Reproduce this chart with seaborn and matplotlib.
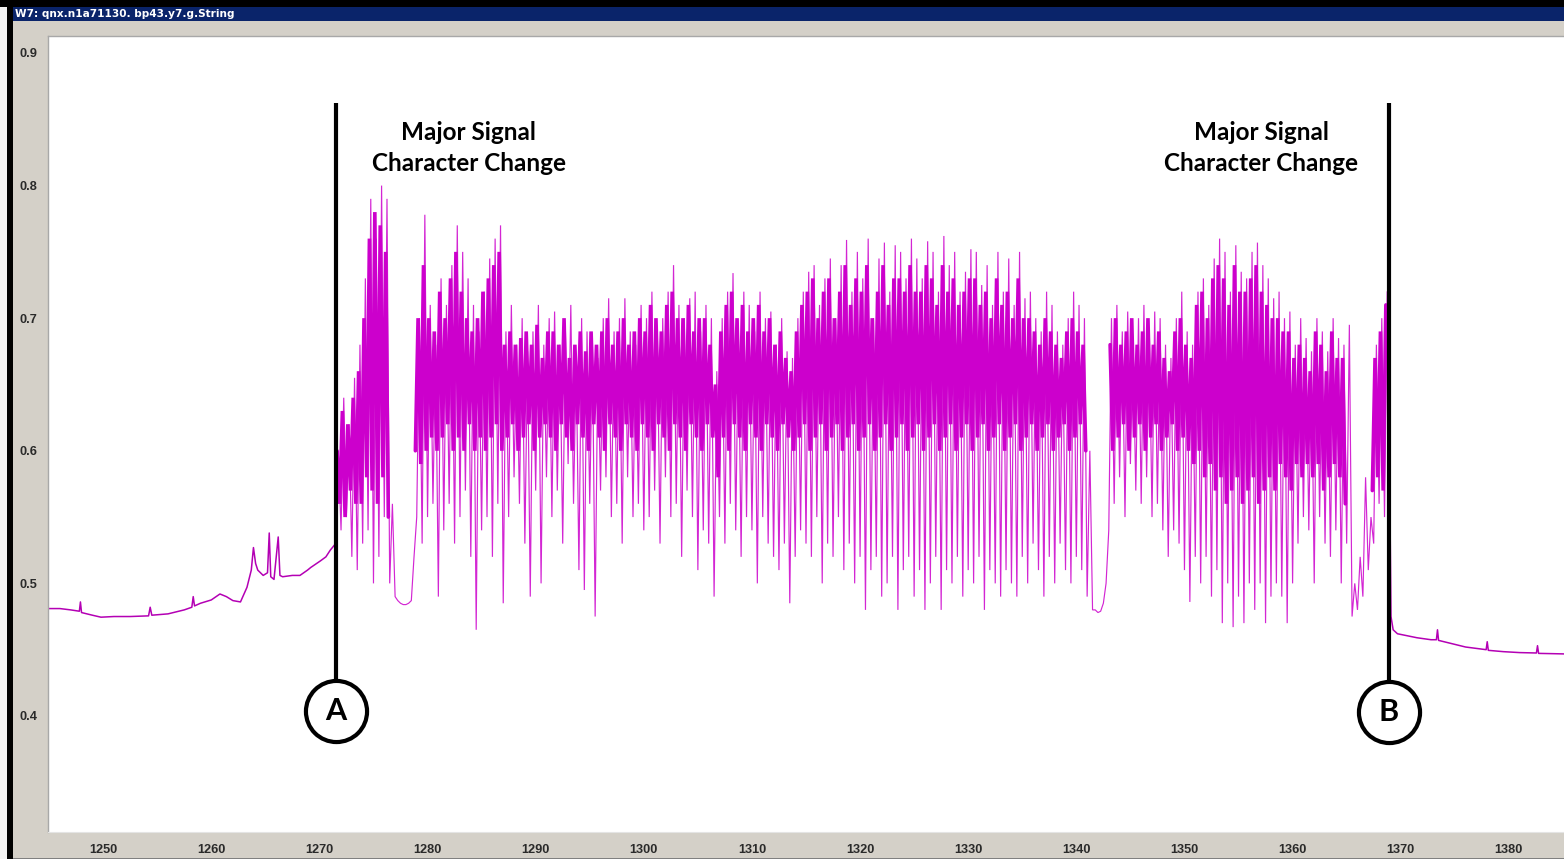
import numpy as np
import pandas as pd
import matplotlib
matplotlib.use("Agg")
import matplotlib.pyplot as plt
import seaborn as sns
from matplotlib.patches import Rectangle

# ---------------- data ----------------
window_title = "W7: qnx.n1a71130. bp43.y7.g.String"
x_ticks = [1250, 1260, 1270, 1280, 1290, 1300, 1310, 1320, 1330, 1340, 1350, 1360, 1370, 1380]
y_ticks = [0.4, 0.5, 0.6, 0.7, 0.8, 0.9]
y_tick_labels = ["0.4", "0.5", "0.6", "0.7", "0.8", "0.9"]

# quiet signal before event A
left_x = [1244.9, 1246.0, 1247.0, 1247.8, 1247.9, 1248.0, 1249.0, 1249.8, 1251.0, 1252.5,
          1254.2, 1254.35, 1254.5, 1256.0, 1257.5, 1258.2, 1258.33, 1258.45, 1259.0, 1260.0,
          1260.8, 1261.4, 1262.0, 1262.7, 1263.3, 1263.7, 1263.9, 1264.1, 1264.3, 1264.8,
          1265.2, 1265.36, 1265.5, 1265.8, 1266.19, 1266.35, 1266.6, 1267.5, 1268.2, 1268.9,
          1269.2, 1270.1, 1270.6, 1271.0, 1271.5]
left_y = [0.481, 0.481, 0.480, 0.479, 0.486, 0.478, 0.476, 0.4745, 0.475, 0.475,
          0.4755, 0.482, 0.476, 0.477, 0.480, 0.482, 0.490, 0.483, 0.485, 0.4875,
          0.492, 0.490, 0.487, 0.486, 0.497, 0.510, 0.527, 0.515, 0.510, 0.506,
          0.508, 0.538, 0.505, 0.503, 0.535, 0.506, 0.505, 0.506, 0.506, 0.510,
          0.512, 0.517, 0.520, 0.525, 0.530]

# oscillating signal between A and B: wide excursions, sampled every 0.25 from 1271.5
outer_start = 1271.5
sample_step = 0.25
outer_y = [
    0.535, 0.60, 0.54, 0.64,    0.55, 0.62, 0.52, 0.655,   0.51, 0.68, 0.53, 0.73,    # 1271.5
    0.54, 0.79, 0.50, 0.76,     0.52, 0.80, 0.55, 0.79,    0.50, 0.56, 0.49, 0.487,   # 1274.5
    0.485, 0.484, 0.484, 0.485, 0.487, 0.52, 0.55, 0.70,   0.53, 0.778, 0.55, 0.71,   # 1277.5
    0.56, 0.68, 0.49, 0.73,     0.54, 0.71, 0.56, 0.74,    0.53, 0.77, 0.55, 0.75,    # 1280.5
    0.57, 0.73, 0.52, 0.71,     0.465, 0.69, 0.54, 0.72,   0.55, 0.745, 0.52, 0.76,   # 1283.5
    0.56, 0.77, 0.485, 0.69,    0.55, 0.71, 0.58, 0.68,    0.56, 0.70, 0.53, 0.675,   # 1286.5
    0.49, 0.69, 0.57, 0.71,     0.50, 0.68, 0.58, 0.70,    0.55, 0.705, 0.57, 0.68,   # 1289.5
    0.53, 0.69, 0.59, 0.71,     0.56, 0.67, 0.51, 0.70,    0.495, 0.69, 0.56, 0.68,   # 1292.5
    0.475, 0.67, 0.57, 0.70,    0.58, 0.715, 0.55, 0.69,   0.56, 0.70, 0.53, 0.715,   # 1295.5
    0.58, 0.69, 0.55, 0.68,     0.56, 0.71, 0.54, 0.70,    0.55, 0.72, 0.57, 0.69,    # 1298.5
    0.53, 0.70, 0.58, 0.72,     0.55, 0.74, 0.56, 0.71,    0.52, 0.70, 0.57, 0.715,   # 1301.5
    0.55, 0.72, 0.51, 0.69,     0.54, 0.71, 0.53, 0.70,    0.49, 0.66, 0.55, 0.70,    # 1304.5
    0.53, 0.72, 0.56, 0.734,    0.54, 0.69, 0.52, 0.72,    0.55, 0.71, 0.54, 0.69,    # 1307.5
    0.50, 0.72, 0.55, 0.70,     0.53, 0.705, 0.52, 0.68,   0.51, 0.70, 0.53, 0.675,   # 1310.5
    0.485, 0.67, 0.52, 0.70,    0.54, 0.72, 0.53, 0.735,   0.52, 0.74, 0.55, 0.71,    # 1313.5
    0.50, 0.73, 0.53, 0.745,    0.52, 0.70, 0.55, 0.74,    0.51, 0.759, 0.53, 0.72,   # 1316.5
    0.50, 0.75, 0.52, 0.73,     0.48, 0.76, 0.51, 0.70,    0.52, 0.745, 0.49, 0.757,  # 1319.5
    0.50, 0.72, 0.52, 0.755,    0.48, 0.75, 0.51, 0.73,    0.52, 0.76, 0.49, 0.745,   # 1322.5
    0.51, 0.73, 0.48, 0.758,    0.50, 0.75, 0.52, 0.72,    0.48, 0.762, 0.51, 0.74,   # 1325.5
    0.50, 0.75, 0.52, 0.72,     0.49, 0.735, 0.51, 0.752,  0.50, 0.75, 0.52, 0.725,   # 1328.5
    0.48, 0.74, 0.51, 0.71,     0.50, 0.75, 0.49, 0.72,    0.51, 0.745, 0.50, 0.71,   # 1331.5
    0.49, 0.75, 0.52, 0.715,    0.50, 0.72, 0.53, 0.70,    0.51, 0.69, 0.49, 0.72,    # 1334.5
    0.52, 0.71, 0.50, 0.69,     0.53, 0.68, 0.51, 0.70,    0.50, 0.72, 0.52, 0.71,    # 1337.5
    0.51, 0.70, 0.49, 0.60,     0.48, 0.48, 0.478, 0.479,  0.485, 0.50, 0.54, 0.70,   # 1340.5
    0.56, 0.71, 0.58, 0.69,     0.55, 0.705, 0.59, 0.68,   0.57, 0.70, 0.56, 0.71,    # 1343.5
    0.58, 0.69, 0.55, 0.705,    0.56, 0.70, 0.54, 0.68,    0.52, 0.67, 0.54, 0.70,    # 1346.5
    0.53, 0.72, 0.51, 0.69,     0.486, 0.68, 0.52, 0.72,   0.50, 0.73, 0.52, 0.71,    # 1349.5
    0.49, 0.745, 0.51, 0.76,    0.47, 0.75, 0.50, 0.72,    0.467, 0.755, 0.49, 0.735, # 1352.5
    0.47, 0.73, 0.50, 0.75,     0.48, 0.757, 0.50, 0.74,   0.47, 0.73, 0.49, 0.715,   # 1355.5
    0.50, 0.72, 0.49, 0.70,     0.47, 0.705, 0.50, 0.68,   0.53, 0.70, 0.55, 0.685,   # 1358.5
    0.54, 0.675, 0.50, 0.70,    0.55, 0.69, 0.53, 0.675,   0.52, 0.70, 0.54, 0.685,   # 1361.5
    0.50, 0.68, 0.53, 0.695,    0.475, 0.50, 0.48, 0.52,   0.49, 0.58, 0.51, 0.55,    # 1364.5
    0.53, 0.68, 0.56, 0.70,     0.55, 0.72,                                           # 1367.5
]

# the dense inner oscillation, four bursts, sampled every 0.25
inner1_start = 1271.625
inner1_y = [
    0.60, 0.56, 0.63, 0.55,     0.62, 0.57, 0.64, 0.56,    0.66, 0.56, 0.70, 0.58,    # 1271.6
    0.76, 0.57, 0.78, 0.56,     0.77, 0.58, 0.75, 0.55,                               # 1274.6
]
inner2_start = 1278.875
inner2_y = [
    0.60, 0.70, 0.59,           0.74, 0.60, 0.70, 0.61,                               # 1278.9
    0.69, 0.60, 0.72, 0.61,     0.70, 0.62, 0.73, 0.60,    0.75, 0.61, 0.72, 0.60,    # 1280.6
    0.70, 0.62, 0.69, 0.60,     0.70, 0.61, 0.72, 0.60,    0.73, 0.61, 0.74, 0.62,    # 1283.6
    0.75, 0.60, 0.68, 0.61,     0.69, 0.62, 0.68, 0.60,    0.685, 0.61, 0.69, 0.62,   # 1286.6
    0.68, 0.60, 0.695, 0.61,    0.67, 0.62, 0.69, 0.61,    0.69, 0.60, 0.68, 0.62,    # 1289.6
    0.70, 0.61, 0.67, 0.60,     0.68, 0.62, 0.69, 0.61,    0.675, 0.60, 0.69, 0.62,   # 1292.6
    0.68, 0.61, 0.69, 0.60,     0.70, 0.62, 0.68, 0.61,    0.69, 0.60, 0.70, 0.62,    # 1295.6
    0.68, 0.61, 0.69, 0.60,     0.70, 0.62, 0.69, 0.61,    0.71, 0.60, 0.70, 0.62,    # 1298.6
    0.69, 0.61, 0.71, 0.60,     0.72, 0.62, 0.70, 0.61,    0.70, 0.60, 0.71, 0.62,    # 1301.6
    0.69, 0.61, 0.70, 0.60,     0.70, 0.62, 0.68, 0.61,    0.65, 0.58, 0.69, 0.61,    # 1304.6
    0.71, 0.60, 0.72, 0.62,     0.70, 0.61, 0.71, 0.60,    0.69, 0.62, 0.70, 0.61,    # 1307.6
    0.71, 0.60, 0.69, 0.62,     0.70, 0.61, 0.68, 0.60,    0.69, 0.62, 0.67, 0.61,    # 1310.6
    0.66, 0.60, 0.69, 0.61,     0.71, 0.62, 0.72, 0.60,    0.73, 0.61, 0.70, 0.62,    # 1313.6
    0.72, 0.60, 0.73, 0.61,     0.70, 0.62, 0.72, 0.60,    0.74, 0.61, 0.71, 0.62,    # 1316.6
    0.73, 0.60, 0.72, 0.61,     0.74, 0.62, 0.70, 0.60,    0.72, 0.61, 0.74, 0.62,    # 1319.6
    0.71, 0.60, 0.73, 0.61,     0.73, 0.62, 0.72, 0.60,    0.74, 0.61, 0.72, 0.62,    # 1322.6
    0.72, 0.60, 0.74, 0.61,     0.73, 0.62, 0.71, 0.60,    0.74, 0.61, 0.72, 0.62,    # 1325.6
    0.73, 0.60, 0.71, 0.61,     0.72, 0.62, 0.73, 0.60,    0.73, 0.61, 0.71, 0.62,    # 1328.6
    0.72, 0.60, 0.70, 0.61,     0.73, 0.62, 0.71, 0.60,    0.72, 0.61, 0.70, 0.62,    # 1331.6
    0.73, 0.60, 0.70, 0.61,     0.70, 0.62, 0.69, 0.60,    0.68, 0.61, 0.70, 0.62,    # 1334.6
    0.69, 0.60, 0.68, 0.61,     0.67, 0.62, 0.69, 0.60,    0.70, 0.61, 0.69, 0.62,    # 1337.6
    0.68, 0.60,                                                                       # 1340.6
]
inner3_start = 1343.125
inner3_y = [
    0.68, 0.60,                                                                       # 1343.1
    0.70, 0.61, 0.68, 0.62,     0.69, 0.60, 0.70, 0.61,    0.68, 0.62, 0.69, 0.60,    # 1343.6
    0.70, 0.61, 0.68, 0.62,     0.69, 0.60, 0.67, 0.61,    0.66, 0.62, 0.69, 0.60,    # 1346.6
    0.70, 0.61, 0.68, 0.60,     0.67, 0.59, 0.71, 0.60,    0.72, 0.58, 0.70, 0.59,    # 1349.6
    0.73, 0.57, 0.74, 0.58,     0.73, 0.56, 0.71, 0.57,    0.74, 0.58, 0.72, 0.56,    # 1352.6
    0.72, 0.57, 0.73, 0.58,     0.74, 0.56, 0.72, 0.57,    0.71, 0.58, 0.70, 0.57,    # 1355.6
    0.70, 0.59, 0.69, 0.58,     0.69, 0.57, 0.67, 0.59,    0.68, 0.58, 0.67, 0.59,    # 1358.6
    0.66, 0.58, 0.69, 0.59,     0.68, 0.57, 0.66, 0.58,    0.69, 0.59, 0.67, 0.58,    # 1361.6
    0.67, 0.56,                                                                       # 1364.6
]
inner4_start = 1367.375
inner4_y = [0.57, 0.67, 0.58, 0.69, 0.57, 0.71]

# quiet signal after event B
right_x = [1369.0, 1369.1, 1369.3, 1369.7, 1370.3, 1371.5, 1372.8, 1373.3, 1373.4, 1373.5,
           1374.5, 1376.0, 1377.9, 1378.0, 1378.1, 1379.5, 1381.0, 1382.55, 1382.65, 1382.75,
           1384.0, 1385.1]
right_y = [0.56, 0.475, 0.465, 0.462, 0.461, 0.459, 0.4575, 0.4575, 0.465, 0.457,
           0.455, 0.452, 0.450, 0.456, 0.4495, 0.4485, 0.4478, 0.4475, 0.453, 0.4472,
           0.447, 0.4468]

# annotations
event_labels = ["A", "B"]
event_x = [1271.55, 1368.87]
event_line_top = 0.8623
event_circle_y = [0.4038, 0.4030]
note_text = "Major Signal\nCharacter Change"
note_x = [1283.8, 1357.1]
note_y = 0.8283

# ---------------- figure ----------------
W, H = 1564, 859
sns.set_style("white")
plt.rcParams["font.family"] = ["Liberation Sans", "DejaVu Sans"]

fig = plt.figure(figsize=(W / 100, H / 100), dpi=100)
GRAY = "#D4D0C8"
fig.patch.set_facecolor(GRAY)

def fx(px):
    return px / W

def fy(py):
    return 1 - py / H

# window chrome
fig.patches.append(Rectangle((0, 0), fx(7), 1, transform=fig.transFigure,
                             facecolor="#F2F2F2", edgecolor="none", zorder=0))
fig.patches.append(Rectangle((fx(7), 0), fx(6), 1, transform=fig.transFigure,
                             facecolor="black", edgecolor="none", zorder=0))
fig.patches.append(Rectangle((0, fy(7)), 1, 7 / H, transform=fig.transFigure,
                             facecolor="black", edgecolor="none", zorder=0))
fig.patches.append(Rectangle((fx(13), fy(21)), 1, 14 / H, transform=fig.transFigure,
                             facecolor="#0A246A", edgecolor="none", zorder=0))
fig.patches.append(Rectangle((fx(13), 0), 1, 1.5 / H, transform=fig.transFigure,
                             facecolor="#808080", edgecolor="none", zorder=0))
fig.text(fx(15), fy(14), window_title, color="white", fontsize=7.6, fontweight="bold",
         family=["DejaVu Sans"], va="center", ha="left")

ax = fig.add_axes([fx(48), fy(832), 1 - fx(48), (832 - 36) / H])
ax.set_facecolor("white")

MAG = "#CC00CC"

# baselines
sns.lineplot(x=left_x, y=left_y, ax=ax, color="#B400B4", linewidth=1.1,
             estimator=None, sort=False)
sns.lineplot(x=right_x, y=right_y, ax=ax, color="#B400B4", linewidth=1.1,
             estimator=None, sort=False)

# burst: thin wide-excursion trace
outer_df = pd.DataFrame({"t": outer_start + sample_step * np.arange(len(outer_y)), "v": outer_y})
sns.lineplot(data=outer_df, x="t", y="v", ax=ax, color=MAG, linewidth=0.85, alpha=0.85,
             estimator=None, sort=False, zorder=3, solid_joinstyle="bevel")

# burst: dense inner trace, one piece per burst
for start, vals in [(inner1_start, inner1_y), (inner2_start, inner2_y),
                    (inner3_start, inner3_y), (inner4_start, inner4_y)]:
    seg = pd.DataFrame({"t": start + sample_step * np.arange(len(vals)), "v": vals})
    sns.lineplot(data=seg, x="t", y="v", ax=ax, color=MAG, linewidth=2.6,
                 estimator=None, sort=False, zorder=3, solid_joinstyle="bevel")

ax.set_xlim(1244.9, 1385.1)
ax.set_ylim(0.3125, 0.9128)
ax.set_xlabel("")
ax.set_ylabel("")
ax.set_xticks(x_ticks)
ax.set_xticklabels([str(t) for t in x_ticks])
ax.set_yticks(y_ticks)
ax.set_yticklabels(y_tick_labels)
ax.tick_params(axis="both", which="both", direction="out", length=2.5, width=0.8,
               color="#888888", labelcolor="#2a2a2a", labelsize=9.2)
ax.tick_params(axis="x", pad=6)
ax.tick_params(axis="y", pad=5)
for lab in ax.get_xticklabels() + ax.get_yticklabels():
    lab.set_fontweight("bold")
for side in ["left", "top"]:
    ax.spines[side].set_color("#A8A8A8")
    ax.spines[side].set_linewidth(1.0)
ax.spines["bottom"].set_color("#E4E4E4")
ax.spines["right"].set_visible(False)

# event markers
for lab, ex, cy in zip(event_labels, event_x, event_circle_y):
    ax.plot([ex, ex], [event_line_top, cy], color="black", linewidth=3.0,
            solid_capstyle="butt", zorder=5)
    ax.scatter([ex], [cy], s=44 ** 2, facecolor="white", edgecolor="black",
               linewidth=3.0, zorder=6)
    ax.text(ex, cy, lab, ha="center", va="center", fontsize=22, fontweight="bold",
            family=["Lato", "DejaVu Sans"], color="black", zorder=7)

for nx in note_x:
    ax.text(nx, note_y, note_text, ha="center", va="center", multialignment="center",
            fontsize=17.5, fontweight="bold", family=["Lato", "DejaVu Sans"],
            color="black", linespacing=1.45, zorder=7)

fig.savefig("out.png", dpi=100, facecolor=fig.get_facecolor())
